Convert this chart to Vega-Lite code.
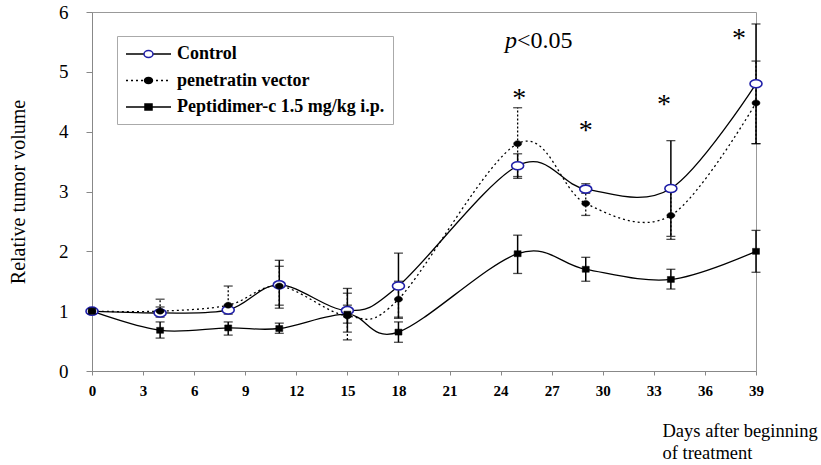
{
  "$schema": "https://vega.github.io/schema/vega-lite/v6.json",
  "width": 664,
  "height": 359,
  "autosize": "none",
  "padding": {"left": 92, "top": 12, "right": 65, "bottom": 94},
  "background": "white",
  "config": {
    "view": {"stroke": "#999", "strokeWidth": 1},
    "axis": {"grid": false, "domainColor": "#888", "tickColor": "#888", "labelColor": "black", "titleColor": "black", "labelFont": "Liberation Serif", "titleFont": "Liberation Serif"}
  },
  "data": {
    "values": [
      {"series": "Control", "day": 0, "value": 1.0, "lo": null, "hi": null},
      {"series": "Control", "day": 4, "value": 0.97, "lo": 0.9, "hi": 1.07},
      {"series": "Control", "day": 8, "value": 1.02, "lo": 0.95, "hi": 1.1},
      {"series": "Control", "day": 11, "value": 1.44, "lo": 1.05, "hi": 1.85},
      {"series": "Control", "day": 15, "value": 1.01, "lo": 0.65, "hi": 1.38},
      {"series": "Control", "day": 18, "value": 1.42, "lo": 0.88, "hi": 1.97},
      {"series": "Control", "day": 25, "value": 3.43, "lo": 3.22, "hi": 3.63},
      {"series": "Control", "day": 29, "value": 3.04, "lo": 2.97, "hi": 3.13},
      {"series": "Control", "day": 34, "value": 3.05, "lo": 2.25, "hi": 3.85},
      {"series": "Control", "day": 39, "value": 4.8, "lo": 3.8, "hi": 5.8},
      {"series": "penetratin vector", "day": 0, "value": 1.0, "lo": null, "hi": null},
      {"series": "penetratin vector", "day": 4, "value": 1.0, "lo": 0.95, "hi": 1.2},
      {"series": "penetratin vector", "day": 8, "value": 1.1, "lo": 0.98, "hi": 1.42},
      {"series": "penetratin vector", "day": 11, "value": 1.42, "lo": 1.1, "hi": 1.75},
      {"series": "penetratin vector", "day": 15, "value": 0.92, "lo": 0.52, "hi": 1.3},
      {"series": "penetratin vector", "day": 18, "value": 1.2, "lo": 0.9, "hi": 1.5},
      {"series": "penetratin vector", "day": 25, "value": 3.8, "lo": 3.25, "hi": 4.4},
      {"series": "penetratin vector", "day": 29, "value": 2.8, "lo": 2.6, "hi": 3.0},
      {"series": "penetratin vector", "day": 34, "value": 2.6, "lo": 2.2, "hi": 3.0},
      {"series": "penetratin vector", "day": 39, "value": 4.48, "lo": 3.8, "hi": 5.18},
      {"series": "Peptidimer-c 1.5 mg/kg i.p.", "day": 0, "value": 1.0, "lo": null, "hi": null},
      {"series": "Peptidimer-c 1.5 mg/kg i.p.", "day": 4, "value": 0.68, "lo": 0.55, "hi": 0.82},
      {"series": "Peptidimer-c 1.5 mg/kg i.p.", "day": 8, "value": 0.72, "lo": 0.6, "hi": 0.82},
      {"series": "Peptidimer-c 1.5 mg/kg i.p.", "day": 11, "value": 0.71, "lo": 0.63, "hi": 0.8},
      {"series": "Peptidimer-c 1.5 mg/kg i.p.", "day": 15, "value": 0.95, "lo": 0.8, "hi": 1.1},
      {"series": "Peptidimer-c 1.5 mg/kg i.p.", "day": 18, "value": 0.65, "lo": 0.48, "hi": 0.82},
      {"series": "Peptidimer-c 1.5 mg/kg i.p.", "day": 25, "value": 1.96, "lo": 1.63, "hi": 2.27},
      {"series": "Peptidimer-c 1.5 mg/kg i.p.", "day": 29, "value": 1.7, "lo": 1.5, "hi": 1.9},
      {"series": "Peptidimer-c 1.5 mg/kg i.p.", "day": 34, "value": 1.53, "lo": 1.37, "hi": 1.7},
      {"series": "Peptidimer-c 1.5 mg/kg i.p.", "day": 39, "value": 2.0, "lo": 1.65, "hi": 2.35}
    ]
  },
  "encoding": {
    "x": {
      "field": "day", "type": "quantitative",
      "scale": {"domain": [0, 39], "nice": false, "zero": false},
      "axis": {
        "values": [0, 3, 6, 9, 12, 15, 18, 21, 24, 27, 30, 33, 36, 39],
        "labelFontWeight": "bold", "labelFontSize": 15, "labelFlush": false, "labelPadding": 8, "tickSize": 4,
        "title": ["Days after beginning", "of treatment"],
        "titleFontSize": 18.5, "titleFontWeight": "normal", "titleAlign": "left", "titleAnchor": "start",
        "titleX": 570, "titleY": 65, "titleBaseline": "alphabetic", "titleLineHeight": 22
      }
    },
    "y": {
      "field": "value", "type": "quantitative",
      "scale": {"domain": [0, 6], "nice": false},
      "axis": {"title": "Relative tumor volume", "values": [0, 1, 2, 3, 4, 5, 6], "format": "d", "labelFontSize": 19, "labelPadding": 18, "tickSize": 6, "titleFontSize": 20, "titleFontWeight": "normal", "titleX": -74, "titleBaseline": "middle"}
    }
  },
  "resolve": {
    "scale": {"shape": "independent", "fill": "independent", "stroke": "independent", "strokeDash": "independent"},
    "legend": {"shape": "independent", "fill": "independent", "stroke": "independent", "strokeDash": "independent"}
  },
  "layer": [
    {
      "transform": [{"filter": "datum.series == 'Control'"}],
      "mark": {"type": "line", "color": "black", "strokeWidth": 1.3, "interpolate": "cardinal"},
      "encoding": {}
    },
    {
      "transform": [{"filter": "datum.series == 'penetratin vector'"}],
      "mark": {"type": "line", "color": "black", "strokeWidth": 1.3, "interpolate": "cardinal", "strokeDash": [2, 3]},
      "encoding": {}
    },
    {
      "transform": [{"filter": "datum.series == 'Peptidimer-c 1.5 mg/kg i.p.'"}],
      "mark": {"type": "line", "color": "black", "strokeWidth": 1.3, "interpolate": "cardinal"},
      "encoding": {}
    },
    {
      "transform": [{"filter": "datum.lo != null && datum.series != 'penetratin vector'"}],
      "mark": {"type": "rule", "color": "black", "strokeWidth": 1.5},
      "encoding": {
        "y": {"field": "lo", "type": "quantitative", "axis": {"title": "Relative tumor volume", "values": [0, 1, 2, 3, 4, 5, 6], "format": "d", "labelFontSize": 19, "labelPadding": 18, "tickSize": 6, "titleFontSize": 20, "titleFontWeight": "normal", "titleX": -74, "titleBaseline": "middle"}},
        "y2": {"field": "hi"}
      }
    },
    {
      "transform": [{"filter": "datum.lo != null && datum.series == 'penetratin vector'"}],
      "mark": {"type": "rule", "color": "black", "strokeWidth": 1.3, "strokeDash": [2, 2]},
      "encoding": {
        "y": {"field": "lo", "type": "quantitative", "axis": {"title": "Relative tumor volume", "values": [0, 1, 2, 3, 4, 5, 6], "format": "d", "labelFontSize": 19, "labelPadding": 18, "tickSize": 6, "titleFontSize": 20, "titleFontWeight": "normal", "titleX": -74, "titleBaseline": "middle"}},
        "y2": {"field": "hi"}
      }
    },
    {
      "transform": [{"filter": "datum.lo != null"}],
      "mark": {"type": "tick", "orient": "horizontal", "color": "black", "size": 9, "thickness": 1.3},
      "encoding": {"y": {"field": "lo", "type": "quantitative", "axis": {"title": "Relative tumor volume", "values": [0, 1, 2, 3, 4, 5, 6], "format": "d", "labelFontSize": 19, "labelPadding": 18, "tickSize": 6, "titleFontSize": 20, "titleFontWeight": "normal", "titleX": -74, "titleBaseline": "middle"}}}
    },
    {
      "transform": [{"filter": "datum.lo != null"}],
      "mark": {"type": "tick", "orient": "horizontal", "color": "black", "size": 9, "thickness": 1.3},
      "encoding": {"y": {"field": "hi", "type": "quantitative", "axis": {"title": "Relative tumor volume", "values": [0, 1, 2, 3, 4, 5, 6], "format": "d", "labelFontSize": 19, "labelPadding": 18, "tickSize": 6, "titleFontSize": 20, "titleFontWeight": "normal", "titleX": -74, "titleBaseline": "middle"}}}
    },
    {
      "transform": [{"filter": "datum.series == 'Control'"}],
      "mark": {"type": "point", "shape": "M-1,0A1,0.67 0 1,0 1,0A1,0.67 0 1,0 -1,0Z", "size": 144, "filled": true, "fill": "white", "stroke": "#1f1fa8", "strokeWidth": 1.6, "opacity": 1}
    },
    {
      "transform": [{"filter": "datum.series == 'penetratin vector'"}],
      "mark": {"type": "point", "shape": "M-1,0A1,0.75 0 1,0 1,0A1,0.75 0 1,0 -1,0Z", "size": 64, "filled": true, "fill": "black", "stroke": "black", "strokeWidth": 0.5, "opacity": 1}
    },
    {
      "transform": [{"filter": "datum.series == 'Peptidimer-c 1.5 mg/kg i.p.'"}],
      "mark": {"type": "point", "shape": "M-1,-0.85H1V0.85H-1Z", "size": 49, "filled": true, "fill": "black", "stroke": "black", "strokeWidth": 0.5, "opacity": 1}
    },
    {
      "transform": [{"filter": "datum.day < 0"}],
      "mark": {"type": "point", "filled": false, "color": "black", "strokeWidth": 1.3, "opacity": 1},
      "encoding": {
        "shape": {
          "field": "series", "type": "nominal",
          "scale": {"domain": ["Control", "penetratin vector", "Peptidimer-c 1.5 mg/kg i.p."], "range": ["M-2.5,0H2.5", "M-2.5,0H2.5", "M-2.5,0H2.5"]},
          "legend": {"title": null, "orient": "none", "legendX": 25, "legendY": 24, "symbolSize": 324, "symbolOffset": 13.5, "strokeColor": "#aaa", "padding": 8, "labelFont": "Liberation Serif", "labelFontWeight": "bold", "labelFontSize": 18, "labelColor": "black", "labelLimit": 400, "labelOffset": 18.5, "rowPadding": 7.5, "symbolStrokeWidth": 1.3, "symbolStrokeColor": "black"}
        },
        "strokeDash": {
          "field": "series", "type": "nominal",
          "scale": {"domain": ["Control", "penetratin vector", "Peptidimer-c 1.5 mg/kg i.p."], "range": [[1, 0], [2, 3], [1, 0]]},
          "legend": {"title": null, "orient": "none", "legendX": 25, "legendY": 24, "symbolSize": 324, "symbolOffset": 13.5, "strokeColor": "#aaa", "padding": 8, "labelFont": "Liberation Serif", "labelFontWeight": "bold", "labelFontSize": 18, "labelColor": "black", "labelLimit": 400, "labelOffset": 18.5, "rowPadding": 7.5, "symbolStrokeWidth": 1.3, "symbolStrokeColor": "black"}
        }
      }
    },
    {
      "transform": [{"filter": "datum.day < 0"}],
      "mark": {"type": "point", "filled": true, "strokeWidth": 1.5, "opacity": 1},
      "encoding": {
        "shape": {
          "field": "series", "type": "nominal",
          "scale": {"domain": ["Control", "penetratin vector", "Peptidimer-c 1.5 mg/kg i.p."], "range": ["M-0.5,0A0.5,0.39 0 1,0 0.5,0A0.5,0.39 0 1,0 -0.5,0Z", "M-0.44,0A0.44,0.33 0 1,0 0.44,0A0.44,0.33 0 1,0 -0.44,0Z", "M-0.39,-0.33H0.39V0.33H-0.39Z"]},
          "legend": {"title": null, "orient": "none", "legendX": 25, "legendY": 24, "symbolSize": 324, "symbolOffset": 13.5, "padding": 8, "labelFont": "Liberation Serif", "labelFontWeight": "bold", "labelFontSize": 18, "labelOpacity": 0, "labelLimit": 400, "labelOffset": 18.5, "rowPadding": 7.5, "symbolStrokeWidth": 1.5}
        },
        "fill": {
          "field": "series", "type": "nominal",
          "scale": {"domain": ["Control", "penetratin vector", "Peptidimer-c 1.5 mg/kg i.p."], "range": ["white", "black", "black"]},
          "legend": {"title": null, "orient": "none", "legendX": 25, "legendY": 24, "symbolSize": 324, "symbolOffset": 13.5, "padding": 8, "labelFont": "Liberation Serif", "labelFontWeight": "bold", "labelFontSize": 18, "labelOpacity": 0, "labelLimit": 400, "labelOffset": 18.5, "rowPadding": 7.5, "symbolStrokeWidth": 1.5}
        },
        "stroke": {
          "field": "series", "type": "nominal",
          "scale": {"domain": ["Control", "penetratin vector", "Peptidimer-c 1.5 mg/kg i.p."], "range": ["#1f1fa8", "black", "black"]},
          "legend": {"title": null, "orient": "none", "legendX": 25, "legendY": 24, "symbolSize": 324, "symbolOffset": 13.5, "padding": 8, "labelFont": "Liberation Serif", "labelFontWeight": "bold", "labelFontSize": 18, "labelOpacity": 0, "labelLimit": 400, "labelOffset": 18.5, "rowPadding": 7.5, "symbolStrokeWidth": 1.5}
        }
      }
    },
    {
      "data": {"values": [
        {"day": 25.1, "value": 4.42, "t": "*"},
        {"day": 29, "value": 3.87, "t": "*"},
        {"day": 33.6, "value": 4.32, "t": "*"},
        {"day": 38, "value": 5.41, "t": "*"}
      ]},
      "mark": {"type": "text", "font": "Liberation Serif", "fontSize": 28, "align": "center", "baseline": "alphabetic", "color": "black"},
      "encoding": {"text": {"field": "t"}}
    },
    {
      "data": {"values": [{"day": 24.96, "value": 5.4, "t": "p"}]},
      "mark": {"type": "text", "font": "Liberation Serif", "fontSize": 24, "fontStyle": "italic", "align": "right", "baseline": "alphabetic", "color": "black"},
      "encoding": {"text": {"field": "t"}}
    },
    {
      "data": {"values": [{"day": 24.96, "value": 5.4, "t": "<0.05"}]},
      "mark": {"type": "text", "font": "Liberation Serif", "fontSize": 24, "align": "left", "baseline": "alphabetic", "color": "black"},
      "encoding": {"text": {"field": "t"}}
    }
  ]
}
